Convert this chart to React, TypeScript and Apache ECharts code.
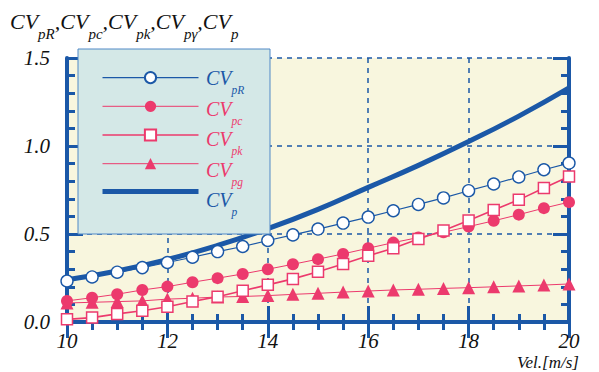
import React, { useEffect, useRef } from "react";
import * as echarts from "echarts";

const xValues = [10, 10.5, 11, 11.5, 12, 12.5, 13, 13.5, 14, 14.5, 15, 15.5, 16, 16.5, 17, 17.5, 18, 18.5, 19, 19.5, 20];
const cvpR = [0.233, 0.256, 0.283, 0.309, 0.338, 0.368, 0.4, 0.429, 0.463, 0.495, 0.528, 0.562, 0.596, 0.632, 0.668, 0.705, 0.746, 0.784, 0.824, 0.865, 0.903];
const cvpc = [0.12, 0.138, 0.158, 0.182, 0.201, 0.226, 0.249, 0.273, 0.3, 0.328, 0.357, 0.387, 0.419, 0.451, 0.48, 0.51, 0.542, 0.575, 0.61, 0.647, 0.681];
const cvpk = [0.015, 0.025, 0.046, 0.064, 0.087, 0.116, 0.144, 0.178, 0.211, 0.245, 0.286, 0.33, 0.376, 0.419, 0.472, 0.52, 0.577, 0.637, 0.694, 0.761, 0.827];
const cvpg = [0.108, 0.112, 0.116, 0.12, 0.13, 0.135, 0.142, 0.145, 0.15, 0.157, 0.163, 0.17, 0.176, 0.182, 0.186, 0.191, 0.195, 0.2, 0.205, 0.21, 0.216];
const cvpX = [10, 11, 12, 13, 14, 15, 16, 17, 18, 19, 20];
const cvp = [0.24, 0.29, 0.355, 0.435, 0.53, 0.64, 0.765, 0.89, 1.025, 1.17, 1.33];
const xTicks = { min: 10, max: 20, interval: 2 };
const yTicks = { min: 0, max: 1.5, interval: 0.5 };
const seriesNames = ["CVpR", "CVpc", "CVpk", "CVpg", "CVp"];
const legendSubs = ["pR", "pc", "pk", "pg", "p"];
const titleSubs = ["pR", "pc", "pk", "pγ", "p"];
const xAxisName = "Vel.[m/s]";

const BLUE = "#1b58a7";
const PINK = "#ec3a6d";
const SERIF = "Liberation Serif";

const pairs = (xs: number[], ys: number[]) => xs.map((x, i) => [x, ys[i]]);

export default function App() {
  const ref = useRef<HTMLDivElement>(null);
  useEffect(() => {
    if (!ref.current) return;
    const chart = echarts.init(ref.current, null, { renderer: "svg" });
    const tickLabel = { fontFamily: SERIF, fontStyle: "italic", fontSize: 21, color: "#111" };
    const axisLine = { show: true, lineStyle: { color: BLUE, width: 4 } };
    const axisTick = { show: true, inside: true, length: 16, lineStyle: { color: BLUE, width: 3 } };
    const minorTickX = { show: true, splitNumber: 4, length: 8, lineStyle: { color: BLUE, width: 3 } };
    const minorTickY = { show: true, splitNumber: 5, length: 8, lineStyle: { color: BLUE, width: 3 } };
    const split = { show: true, lineStyle: { color: BLUE, width: 1.5, type: [5, 5] } };

    const legendColors = [BLUE, PINK, PINK, PINK, BLUE];
    const legendLeft = 100;
    const legendTop = 71;
    const legendItemH = 14;
    const legendStep = 30.5;

    const legendLabels = legendSubs.map((sub, i) => ({
      type: "text",
      left: 206,
      top: legendTop + legendItemH / 2 + i * legendStep - 10,
      z: 30,
      style: {
        text: `{m|CV}{s|${sub}}`,
        fill: legendColors[i],
        rich: {
          m: { fontFamily: SERIF, fontStyle: "italic", fontSize: 20, lineHeight: 20, verticalAlign: "top", fill: legendColors[i] },
          s: { fontFamily: SERIF, fontStyle: "italic", fontSize: 11.5, lineHeight: 11, verticalAlign: "top", padding: [16, 0, 0, 0], fill: legendColors[i] },
        },
      },
    }));

    const titleText = titleSubs.map((s, i) => `{m|${i > 0 ? "," : ""}CV}{s|${s}}`).join("");

    chart.setOption({
      animation: false,
      grid: { left: 67, right: 30, top: 58, bottom: 50, show: true, backgroundColor: "#f8f6de", borderWidth: 0 },
      xAxis: [
        {
          type: "value", ...xTicks, position: "bottom",
          axisLine, axisTick, minorTick: minorTickX, splitLine: split,
          axisLabel: { ...tickLabel, margin: 13, lineHeight: 12 },
        },
        {
          type: "value", ...xTicks, position: "top",
          axisLine, axisTick, minorTick: minorTickX, splitLine: { show: false },
          axisLabel: { show: false },
        },
      ],
      yAxis: [
        {
          type: "value", ...yTicks, position: "left",
          axisLine, axisTick, minorTick: minorTickY, splitLine: split,
          axisLabel: { ...tickLabel, margin: 17, formatter: (v: number) => v.toFixed(1) },
        },
        {
          type: "value", ...yTicks, position: "right",
          axisLine, axisTick, minorTick: minorTickY, splitLine: { show: false },
          axisLabel: { show: false },
        },
      ],
      legend: {
        orient: "vertical", left: legendLeft, top: legendTop,
        padding: 0, z: 20,
        itemWidth: 96, itemHeight: legendItemH, itemGap: legendStep - legendItemH,
        formatter: () => "",
        textStyle: { fontSize: 8, lineHeight: 8 },
        lineStyle: { width: "inherit" },
        data: seriesNames.map((name, i) =>
          i === 4 ? { name, itemStyle: { opacity: 0 } } : { name }
        ),
      },
      graphic: [
        {
          type: "rect", z: 10,
          shape: { x: 78, y: 49, width: 192, height: 185 },
          style: { fill: "#d4e8e7", stroke: "#5189c6", lineWidth: 1 },
        },
        ...legendLabels,
        {
          type: "text", left: 10, top: 10, z: 30,
          style: {
            text: titleText,
            fill: "#111",
            rich: {
              m: { fontFamily: SERIF, fontStyle: "italic", fontSize: 22, lineHeight: 22, verticalAlign: "top", fill: "#111" },
              s: { fontFamily: SERIF, fontStyle: "italic", fontSize: 15, lineHeight: 15, verticalAlign: "top", padding: [16, 0, 0, 0], fill: "#111" },
            },
          },
        },
        {
          type: "text", left: 517, top: 354, z: 30,
          style: { text: xAxisName, fontFamily: SERIF, fontStyle: "italic", fontSize: 17, lineHeight: 14, fill: "#111" },
        },
      ],
      series: [
        {
          name: seriesNames[4], type: "line", data: pairs(cvpX, cvp), smooth: true, symbol: "none",
          lineStyle: { color: BLUE, width: 5 }, itemStyle: { color: BLUE }, z: 2,
        },
        {
          name: seriesNames[3], type: "line", data: pairs(xValues, cvpg), symbol: "triangle", symbolSize: 13,
          lineStyle: { color: PINK, width: 1 }, itemStyle: { color: PINK }, z: 3,
        },
        {
          name: seriesNames[1], type: "line", data: pairs(xValues, cvpc), symbol: "circle", symbolSize: 12,
          lineStyle: { color: PINK, width: 1 }, itemStyle: { color: PINK }, z: 4,
        },
        {
          name: seriesNames[2], type: "line", data: pairs(xValues, cvpk), symbol: "rect", symbolSize: 11,
          lineStyle: { color: PINK, width: 1.6 }, itemStyle: { color: "#fff", borderColor: PINK, borderWidth: 1.5 }, z: 5,
        },
        {
          name: seriesNames[0], type: "line", data: pairs(xValues, cvpR), symbol: "circle", symbolSize: 12,
          lineStyle: { color: BLUE, width: 1.2 }, itemStyle: { color: "#fff", borderColor: BLUE, borderWidth: 1.4 }, z: 6,
        },
      ],
    });
    return () => chart.dispose();
  }, []);
  return <div ref={ref} style={{ position: "absolute", left: 0, top: 0, width: 599, height: 372 }} />;
}
